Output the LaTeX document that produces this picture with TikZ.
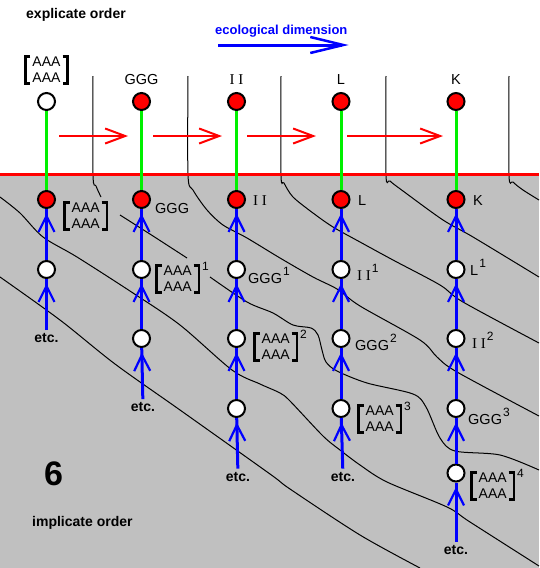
\documentclass[tikz,border=0pt]{standalone}
\usepackage{fontspec}
\setmainfont{Liberation Sans}
\newfontfamily\ioroman{Liberation Serif}
\usepackage{tikz}
\usetikzlibrary{arrows.meta,decorations.markings,positioning}
\definecolor{ioRed}{HTML}{FF0000}
\definecolor{ioGreen}{HTML}{00F000}
\definecolor{ioBlue}{HTML}{0000FF}
\definecolor{ioGray}{HTML}{C0C0C0}
\newcommand{\ioII}{{\ioroman\fontsize{15}{16}\selectfont I I}}
\newcommand{\ioup}[1]{\kern1pt\raisebox{7.5pt}{\fontsize{12}{12}\selectfont #1}}
\tikzset{
  io diagram/.style={x=1pt, y=-1pt},
  io dot/.style={circle, draw=black, fill=white, line width=2pt,
    minimum size=17pt, inner sep=0pt},
  io live/.style={io dot, fill=ioRed},
  io stem/.style={draw=ioGreen, line width=3pt},
  io flow/.style={ioBlue, line width=3pt, postaction={decorate},
    decoration={markings, mark=at position -4.5pt with
      {\arrow{Straight Barb[length=16pt,width=16pt,line width=2.2pt]}}}},
  io shift/.style={draw=ioRed, line width=2pt,
    -{Straight Barb[length=20pt,width=15pt,line width=2pt]}},
  io axis/.style={draw=ioBlue, line width=3pt,
    -{Straight Barb[length=33pt,width=16pt,line width=2.5pt]}},
  io contour/.style={draw=black, line width=1pt},
  io label/.style={font=\fontsize{14.5}{16}\selectfont, inner sep=0pt},
  io sup/.style={font=\fontsize{12}{12}\selectfont, inner sep=0pt},
  io caption/.style={font=\bfseries\fontsize{14}{16}\selectfont, inner sep=0pt},
  io etc/.style={font=\bfseries\fontsize{14}{16}\selectfont, inner sep=3pt},
  io mat/.style={font=\fontsize{14}{16}\selectfont, align=center,
    inner xsep=8.5pt, inner ysep=2pt,
    path picture={
      \draw[line width=2.6pt]
        ([shift={(6.5pt,-1.3pt)}]path picture bounding box.north west)
        -| ([shift={(1.3pt,1.3pt)}]path picture bounding box.south west)
        -- ++(5.2pt,0pt);
      \draw[line width=2.6pt]
        ([shift={(-6.5pt,-1.3pt)}]path picture bounding box.north east)
        -| ([shift={(-1.3pt,1.3pt)}]path picture bounding box.south east)
        -- ++(-5.2pt,0pt);
    }}
}
\begin{document}
\begin{tikzpicture}[io diagram]
\useasboundingbox (0,0) rectangle (539,568);
\fill[ioGray] (0,175) rectangle (539,568);

% contour lines
\draw[io contour] plot[smooth] coordinates {(93,76) (93,175) (96,186) (101,197)};
\draw[io contour] plot[smooth] coordinates {(120,215) (153,236) (187,258)};
\draw[io contour] plot[smooth] coordinates {(210,277) (247,302) (273,313) (293,325) (311,328) (318,335) (322,350) (326,362) (337,371) (367,383) (413,394) (426,407) (440,438) (455,451) (500,455) (539,470)};
\draw[io contour] plot[smooth] coordinates {(188,76) (188,175) (193,190) (207,210) (223,225) (247,238) (280,258) (313,277) (337,289) (360,306) (420,340) (437,357) (457,372) (539,416)};
\draw[io contour] plot[smooth] coordinates {(281,76) (281,175) (284,183) (293,197) (313,213) (333,227) (360,242) (393,260) (440,285) (463,302) (539,343)};
\draw[io contour] plot[smooth] coordinates {(386,76) (386,175) (390,181) (403,191) (443,220) (473,237) (539,277)};
\draw[io contour] plot[smooth] coordinates {(509,76) (509,175) (513,182) (523,190) (539,200)};
\draw[io contour] plot[smooth] coordinates {(0,197) (20,213) (43,237) (77,257) (133,293) (180,325) (232,370) (260,384) (280,393) (290,401) (323,436) (340,450) (360,465) (387,482) (447,507) (470,522) (539,566)};
\draw[io contour] plot[smooth] coordinates {(0,277) (60,320) (115,364) (180,410) (270,474) (290,489) (360,535) (420,568)};

\draw[draw=ioRed, line width=3pt] (0,174.5) -- (539,174.5);

% captions
\node[io caption, anchor=base west] (expl) at (26,18) {explicate order};
\node[io caption, text=ioBlue, font=\bfseries\fontsize{13}{14}\selectfont,
  anchor=base west] (eco) at (215,34) {ecological dimension};
\node[io caption, anchor=base west] (impl) at (32,526) {implicate order};
\node[io caption, font=\bfseries\fontsize{34}{36}\selectfont, anchor=base] (six) at (53.5,485) {6};

% explicate row
\node[io dot] (top1) at (46.5,101.5) {};
\node[io live] (top2) at (141.5,101.5) {};
\node[io live] (top3) at (236.5,101.5) {};
\node[io live] (top4) at (341,101.5) {};
\node[io live] (top5) at (456,101.5) {};
\node[io mat, above=7pt of top1] (mtop) {AAA\\AAA};
\node[io label, above=7pt of top2] (ltop2) {GGG};
\node[io label, above=7pt of top3] (ltop3) {\ioII};
\node[io label, above=7pt of top4] (ltop4) {L};
\node[io label, above=7pt of top5] (ltop5) {K};

% unfolded columns
\node[io live] (n10) at (46.5,199.5) {};
\node[io dot] (n11) at (46.5,269.5) {};
\node[io etc, anchor=base] (etc1) at (46.5,342.5) {etc.};

\node[io live] (n20) at (141.5,199.5) {};
\node[io dot] (n21) at (141.5,269.5) {};
\node[io dot] (n22) at (141.5,338.5) {};
\node[io etc, anchor=base] (etc2) at (143,411.5) {etc.};

\node[io live] (n30) at (236.5,199.5) {};
\node[io dot] (n31) at (236.5,269.5) {};
\node[io dot] (n32) at (236.5,338.5) {};
\node[io dot] (n33) at (236.5,408.5) {};
\node[io etc, anchor=base] (etc3) at (238,481) {etc.};

\node[io live] (n40) at (341,199.5) {};
\node[io dot] (n41) at (341,269.5) {};
\node[io dot] (n42) at (341,338.5) {};
\node[io dot] (n43) at (341,408.5) {};
\node[io etc, anchor=base] (etc4) at (343,481) {etc.};

\node[io live] (n50) at (456,199.5) {};
\node[io dot] (n51) at (456,269.5) {};
\node[io dot] (n52) at (456,338.5) {};
\node[io dot] (n53) at (456,408.5) {};
\node[io dot] (n54) at (456,473) {};
\node[io etc, anchor=base] (etc5) at (456,554) {etc.};

% labels
\node[io mat, anchor=west] (m10) at (63,216) {AAA\\AAA};
\node[io label, anchor=base west] (l20) at (155,213) {GGG};
\node[io mat, anchor=west] (m21) at (155,279) {AAA\\AAA};
\node[io sup, anchor=north west] (s21) at ([shift={(1.5pt,2pt)}]m21.north east) {1};
\node[io label, anchor=base west] (l30) at (253,205) {\ioII};
\node[io label, anchor=base west] (l31) at (248,283) {GGG\ioup{1}};
\node[io mat, anchor=west] (m32) at (253,347) {AAA\\AAA};
\node[io sup, anchor=north west] (s32) at ([shift={(1.5pt,2pt)}]m32.north east) {2};
\node[io label, anchor=base west] (l40) at (358,205) {L};
\node[io label, anchor=base west] (l41) at (357,280) {\ioII\ioup{1}};
\node[io label, anchor=base west] (l42) at (355,350) {GGG\ioup{2}};
\node[io mat, anchor=west] (m43) at (357,419) {AAA\\AAA};
\node[io sup, anchor=north west] (s43) at ([shift={(1.5pt,2pt)}]m43.north east) {3};
\node[io label, anchor=base west] (l50) at (473,205) {K};
\node[io label, anchor=base west] (l51) at (470,275) {L\ioup{1}};
\node[io label, anchor=base west] (l52) at (472,348) {\ioII\ioup{2}};
\node[io label, anchor=base west] (l53) at (468,424) {GGG\ioup{3}};
\node[io mat, anchor=west] (m54) at (470,486) {AAA\\AAA};
\node[io sup, anchor=north west] (s54) at ([shift={(1.5pt,2pt)}]m54.north east) {4};

% stems
\draw[io stem] (top1) -- (n10);
\draw[io stem] (top2) -- (n20);
\draw[io stem] (top3) -- (n30);
\draw[io stem] (top4) -- (n40);
\draw[io stem] (top5) -- (n50);

% shifts along the ecological dimension
\coordinate (sh1a) at (59,136);
\coordinate (sh1b) at (128,136);
\coordinate (sh2a) at (153,136);
\coordinate (sh2b) at (222,136);
\coordinate (sh3a) at (247,136);
\coordinate (sh3b) at (316,136);
\coordinate (sh4a) at (347,136);
\coordinate (sh4b) at (443,136);
\draw[io shift] (sh1a) -- (sh1b);
\draw[io shift] (sh2a) -- (sh2b);
\draw[io shift] (sh3a) -- (sh3b);
\draw[io shift] (sh4a) -- (sh4b);
\draw[io axis] ([shift={(3pt,-11pt)}]eco.base west) -- ([shift={(1pt,-11pt)}]eco.base east);

% enfolding
\draw[io flow] (etc1) -- (n11);
\draw[io flow] (n11) -- (n10);
\draw[io flow] (etc2) -- (n22);
\draw[io flow] (n22) -- (n21);
\draw[io flow] (n21) -- (n20);
\draw[io flow] (etc3) -- (n33);
\draw[io flow] (n33) -- (n32);
\draw[io flow] (n32) -- (n31);
\draw[io flow] (n31) -- (n30);
\draw[io flow] (etc4) -- (n43);
\draw[io flow] (n43) -- (n42);
\draw[io flow] (n42) -- (n41);
\draw[io flow] (n41) -- (n40);
\draw[io flow] (etc5) -- (n54);
\draw[io flow] (n54) -- (n53);
\draw[io flow] (n53) -- (n52);
\draw[io flow] (n52) -- (n51);
\draw[io flow] (n51) -- (n50);
\end{tikzpicture}
\end{document}
